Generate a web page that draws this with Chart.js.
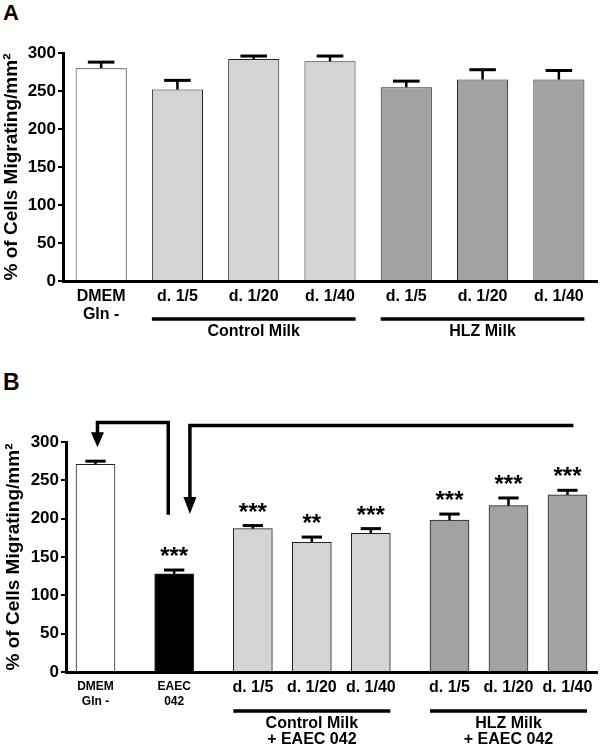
<!DOCTYPE html>
<html>
<head>
<meta charset="utf-8">
<script src="https://cdn.jsdelivr.net/npm/chart.js@4.4.1/dist/chart.umd.min.js"></script>
<style>
  body { margin: 0; background: #fff; width: 600px; height: 747px; position: relative; overflow: hidden; font-family: "Liberation Sans", Arial, sans-serif; }
  .panel-label { position: absolute; left: 3px; font-weight: bold; line-height: 1.15; }
  #chartA { position: absolute; left: 0; top: 0; }
  #chartB { position: absolute; left: 0; top: 360px; }
</style>
</head>
<body>
<div class="panel-label" style="top:0px;font-size:22px">A</div>
<div class="panel-label" style="top:369px;font-size:23px">B</div>
<canvas id="chartA" width="600" height="360"></canvas>
<canvas id="chartB" width="600" height="387"></canvas>
<script>
// Panel A
const labelsA = [['DMEM', 'Gln -'], 'd. 1/5', 'd. 1/20', 'd. 1/40', 'd. 1/5', 'd. 1/20', 'd. 1/40'];
const valuesA = [280, 252, 292, 289, 255, 265, 265];
const errorsA = [8, 12, 4, 7, 8, 13, 12];
const colorsA = ['#ffffff', '#d4d4d4', '#d4d4d4', '#d4d4d4', '#a2a2a2', '#a2a2a2', '#a2a2a2'];

// Panel B (x = slot position on the axis)
const labelsB = [['DMEM', 'Gln -'], ['EAEC', '042'], 'd. 1/5', 'd. 1/20', 'd. 1/40', 'd. 1/5', 'd. 1/20', 'd. 1/40'];
const slotsB = [1.5, 5.5, 9.5, 12.5, 15.5, 19.5, 22.5, 25.5];
const valuesB = [271, 128, 187, 169, 181, 198, 217, 231];
const errorsB = [4, 5, 4, 7, 6, 8, 10, 6];
const starsB = ['', '***', '***', '**', '***', '***', '***', '***'];
const colorsB = ['#ffffff', '#000000', '#d4d4d4', '#d4d4d4', '#d4d4d4', '#a2a2a2', '#a2a2a2', '#a2a2a2'];

const yTicks = [0, 50, 100, 150, 200, 250, 300];
const yTitle = '% of Cells Migrating/mm\u00B2';

Chart.defaults.font.family = '"Liberation Sans", Arial, sans-serif';
Chart.defaults.color = '#000';

// error bars, stars, group brackets and arrows
const decor = {
    id: 'decor',
    afterDatasetsDraw(chart, args, opts) {
        const ctx = chart.ctx;
        const meta = chart.getDatasetMeta(0);
        const y = chart.scales.y;
        const x = chart.scales.x;
        ctx.save();
        ctx.strokeStyle = '#000';
        ctx.fillStyle = '#000';

        meta.data.forEach((bar, i) => {
            const val = chart.data.datasets[0].data[i];
            const v = typeof val === 'object' ? val.y : val;
            const top = y.getPixelForValue(v + opts.errors[i]);
            const cap = bar.width * 0.52;
            ctx.lineWidth = 2.5;
            ctx.beginPath();
            ctx.moveTo(bar.x, bar.y);
            ctx.lineTo(bar.x, top);
            ctx.stroke();
            ctx.lineWidth = 3;
            ctx.beginPath();
            ctx.moveTo(bar.x - cap / 2, top);
            ctx.lineTo(bar.x + cap / 2, top);
            ctx.stroke();
            if (opts.stars && opts.stars[i]) {
                ctx.font = 'bold 24px "Liberation Sans", Arial, sans-serif';
                ctx.textAlign = 'center';
                ctx.textBaseline = 'alphabetic';
                ctx.fillText(opts.stars[i], bar.x, top - 6);
            }
        });

        (opts.groups || []).forEach(g => {
            const a = meta.data[g.from], b = meta.data[g.to];
            const x1 = a.x - a.width / 2, x2 = b.x + b.width / 2;
            const ly = chart.chartArea.bottom + opts.groupOffset;
            ctx.lineWidth = 3.5;
            ctx.beginPath();
            ctx.moveTo(x1, ly);
            ctx.lineTo(x2, ly);
            ctx.stroke();
            ctx.font = 'bold 16px "Liberation Sans", Arial, sans-serif';
            ctx.textAlign = 'center';
            ctx.textBaseline = 'middle';
            g.lines.forEach((t, k) => ctx.fillText(t, (x1 + x2) / 2, ly + 13 + k * 16));
        });

        (opts.arrows || []).forEach(ar => {
            const pts = ar.path.map(p => [x.getPixelForValue(p[0]), y.getPixelForValue(p[1])]);
            const tip = pts[pts.length - 1];
            const headLen = ar.head;
            ctx.lineWidth = 3.5;
            ctx.lineJoin = 'miter';
            ctx.beginPath();
            ctx.moveTo(pts[0][0], pts[0][1]);
            for (let k = 1; k < pts.length - 1; k++) ctx.lineTo(pts[k][0], pts[k][1]);
            ctx.lineTo(tip[0], tip[1] - headLen + 1);
            ctx.stroke();
            ctx.beginPath();
            ctx.moveTo(tip[0], tip[1]);
            ctx.lineTo(tip[0] - 6.5, tip[1] - headLen);
            ctx.lineTo(tip[0] + 6.5, tip[1] - headLen);
            ctx.closePath();
            ctx.fill();
        });
        ctx.restore();
    }
};

function yScale(titlePad, width) {
    return {
        min: 0,
        max: 300,
        afterBuildTicks: s => { s.ticks = yTicks.map(v => ({ value: v })); },
        afterFit: s => { s.width = width; },
        ticks: { font: { size: 17, weight: 'bold' }, padding: 2, color: '#000' },
        grid: { display: true, drawOnChartArea: false, drawTicks: true, tickLength: 5, lineWidth: 2, color: '#000' },
        border: { display: true, color: '#000', width: 3 },
        title: {
            display: true,
            text: yTitle,
            font: { size: 19, weight: 'bold' },
            padding: { top: titlePad, bottom: 0 },
            color: '#000'
        }
    };
}

new Chart(document.getElementById('chartA'), {
    type: 'bar',
    data: {
        labels: labelsA,
        datasets: [{
            data: valuesA,
            backgroundColor: colorsA,
            borderColor: '#222',
            borderWidth: 1,
            barPercentage: 0.67,
            categoryPercentage: 1
        }]
    },
    options: {
        responsive: false,
        animation: false,
        devicePixelRatio: 1,
        layout: { padding: { top: 53, right: 3, left: 0, bottom: 0 } },
        plugins: {
            legend: { display: false },
            tooltip: { enabled: false },
            decor: {
                errors: errorsA,
                groupOffset: 38,
                groups: [
                    { from: 1, to: 3, lines: ['Control Milk'] },
                    { from: 4, to: 6, lines: ['HLZ Milk'] }
                ]
            }
        },
        scales: {
            x: {
                afterFit: s => { s.height = 79; },
                ticks: { font: { size: 16, weight: 'bold', lineHeight: 1.1 }, padding: 7, maxRotation: 0, autoSkip: false, color: '#000' },
                grid: { display: false, drawTicks: false },
                border: { display: true, color: '#000', width: 3 }
            },
            y: yScale(0, 63)
        }
    },
    plugins: [decor]
});

new Chart(document.getElementById('chartB'), {
    type: 'bar',
    data: {
        datasets: [{
            data: slotsB.map((s, i) => ({ x: s, y: valuesB[i] })),
            backgroundColor: colorsB,
            borderColor: '#222',
            borderWidth: 1,
            barThickness: 39
        }]
    },
    options: {
        responsive: false,
        animation: false,
        devicePixelRatio: 1,
        layout: { padding: { top: 82, right: 3, left: 0, bottom: 0 } },
        plugins: {
            legend: { display: false },
            tooltip: { enabled: false },
            decor: {
                errors: errorsB,
                stars: starsB,
                groupOffset: 39,
                groups: [
                    { from: 2, to: 4, lines: ['Control Milk', '+ EAEC 042'] },
                    { from: 5, to: 7, lines: ['HLZ Milk', '+ EAEC 042'] }
                ],
                arrows: [
                    { path: [[5.2, 205], [5.2, 325.5], [1.6, 325.5], [1.6, 293]], head: 15 },
                    { path: [[25.8, 321.6], [6.3, 321.6], [6.3, 206]], head: 17 }
                ]
            }
        },
        scales: {
            x: {
                type: 'linear',
                min: 0,
                max: 27,
                offset: false,
                afterBuildTicks: s => { s.ticks = slotsB.map(v => ({ value: v })); },
                afterFit: s => { s.height = 75; },
                ticks: {
                    callback: (v, i) => labelsB[i],
                    font: c => c.index < 2
                        ? { size: 12, weight: 'bold', lineHeight: 1.25 }
                        : { size: 16, weight: 'bold', lineHeight: 1.1 },
                    padding: 7,
                    maxRotation: 0,
                    autoSkip: false,
                    color: '#000'
                },
                grid: { display: false, drawTicks: false },
                border: { display: true, color: '#000', width: 3 }
            },
            y: yScale(2, 66)
        }
    },
    plugins: [decor]
});
</script>
</body>
</html>
